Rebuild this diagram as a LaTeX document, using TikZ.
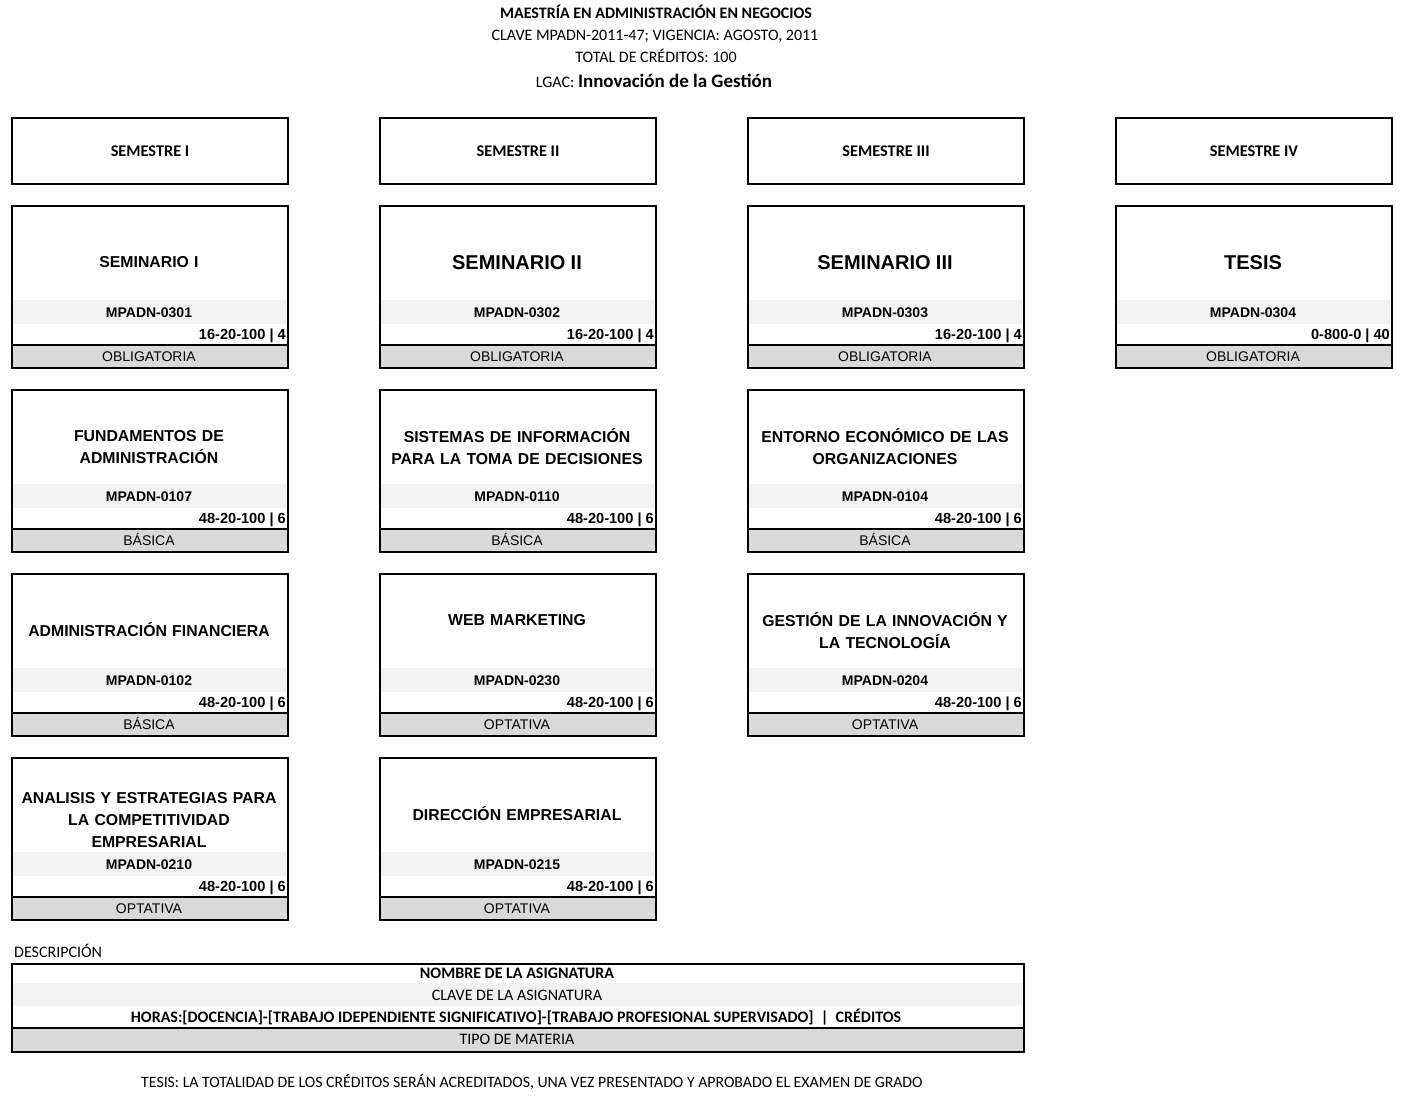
\documentclass[tikz,border=0pt]{standalone}
\usepackage{fontspec}
\newfontfamily\arialf{Liberation Sans}
\newfontfamily\calf{Carlito}
\definecolor{lightband}{HTML}{F2F2F2}
\definecolor{darkband}{HTML}{D9D9D9}
\tikzset{
  boxline/.style={line width=2pt,draw=black},
  coursebox/.style={boxline,rectangle,minimum width=276pt,minimum height=162pt,anchor=north west,inner sep=0pt},
  semhead/.style={boxline,rectangle,minimum width=276pt,minimum height=66pt,anchor=north west,inner sep=0pt},
  semtext/.style={font=\calf\bfseries\fontsize{16.3}{18}\selectfont,inner sep=0pt},
  titletext/.style={font=\arialf\bfseries\fontsize{15.8}{22}\selectfont,align=center,text width=272pt,inner sep=0pt},
  codetext/.style={font=\arialf\bfseries\fontsize{14}{16}\selectfont,inner sep=0pt,anchor=base},
  hourstext/.style={font=\arialf\bfseries\fontsize{14.6}{16}\selectfont,inner sep=0pt,anchor=base east},
  typetext/.style={font=\arialf\fontsize{14}{16}\selectfont,inner sep=0pt,anchor=base},
  headtext/.style={font=\calf\fontsize{16}{18}\selectfont,inner sep=0pt,anchor=base},
  headbold/.style={headtext,font=\calf\bfseries\fontsize{16}{18}\selectfont},
  legtext/.style={font=\calf\fontsize{16}{18}\selectfont,inner sep=0pt,anchor=base},
  legbold/.style={legtext,font=\calf\bfseries\fontsize{16}{18}\selectfont},
}
% name, x, y, title, title dy, code, hours, type
\newcommand\course[8]{%
  \fill[lightband] ({#2},{#3+95}) rectangle ({#2+276},{#3+119});
  \fill[darkband] ({#2},{#3+140}) rectangle ({#2+276},{#3+162});
  \draw[boxline] ({#2},{#3+140}) -- ({#2+276},{#3+140});
  \node[coursebox] (#1) at ({#2},{#3}) {};
  \node[titletext] (#1-t) at ({#2+138},{#3+#5}) {#4};
  \node[codetext] (#1-c) at ({#2+138},{#3+112.5}) {#6};
  \node[hourstext] (#1-h) at ({#2+275},{#3+134.5}) {#7};
  \node[typetext] (#1-y) at ({#2+138},{#3+156}) {#8};
}
\begin{document}
\begin{tikzpicture}[x=1pt,y=-1pt]
\useasboundingbox (0,0) rectangle (1410,1110);
% header
\node[headbold] (h1) at (656,19) {MAESTRÍA EN ADMINISTRACIÓN EN NEGOCIOS};
\node[headtext] (h2) at (655,41) {CLAVE MPADN-2011-47; VIGENCIA: AGOSTO, 2011};
\node[headtext] (h3) at (656,63) {TOTAL DE CRÉDITOS: 100};
\node[headtext] (h4) at (654,88) {LGAC: {\bfseries\fontsize{19}{21}\selectfont Innovación de la Gestión}};
% semester headers
\node[semhead] (s1) at (11,117) {};
\node[semhead] (s2) at (379,117) {};
\node[semhead] (s3) at (747,117) {};
\node[semhead] (s4) at (1115,117) {};
\node[semtext] at (s1.center) {SEMESTRE I};
\node[semtext] at (s2.center) {SEMESTRE II};
\node[semtext] at (s3.center) {SEMESTRE III};
\node[semtext] at (s4.center) {SEMESTRE IV};
% row 1
\course{c11}{11}{205}{SEMINARIO I}{57}{MPADN-0301}{16-20-100 | 4}{OBLIGATORIA}
\course{c21}{379}{205}{{\fontsize{20}{24}\selectfont SEMINARIO II}}{58}{MPADN-0302}{16-20-100 | 4}{OBLIGATORIA}
\course{c31}{747}{205}{{\fontsize{20}{24}\selectfont SEMINARIO III}}{58}{MPADN-0303}{16-20-100 | 4}{OBLIGATORIA}
\course{c41}{1115}{205}{{\fontsize{20}{24}\selectfont TESIS}}{58}{MPADN-0304}{0-800-0 | 40}{OBLIGATORIA}
% row 2
\course{c12}{11}{389}{FUNDAMENTOS DE\\ADMINISTRACIÓN}{58}{MPADN-0107}{48-20-100 | 6}{BÁSICA}
\course{c22}{379}{389}{SISTEMAS DE INFORMACIÓN\\PARA LA TOMA DE DECISIONES}{58}{MPADN-0110}{48-20-100 | 6}{BÁSICA}
\course{c32}{747}{389}{ENTORNO ECONÓMICO DE LAS\\ORGANIZACIONES}{58}{MPADN-0104}{48-20-100 | 6}{BÁSICA}
% row 3
\course{c13}{11}{573}{ADMINISTRACIÓN FINANCIERA}{57}{MPADN-0102}{48-20-100 | 6}{BÁSICA}
\course{c23}{379}{573}{WEB MARKETING}{47}{MPADN-0230}{48-20-100 | 6}{OPTATIVA}
\course{c33}{747}{573}{GESTIÓN DE LA INNOVACIÓN Y\\LA TECNOLOGÍA}{58}{MPADN-0204}{48-20-100 | 6}{OPTATIVA}
% row 4
\course{c14}{11}{757}{ANALISIS Y ESTRATEGIAS PARA\\LA COMPETITIVIDAD\\EMPRESARIAL}{63}{MPADN-0210}{48-20-100 | 6}{OPTATIVA}
\course{c24}{379}{757}{DIRECCIÓN EMPRESARIAL}{57}{MPADN-0215}{48-20-100 | 6}{OPTATIVA}
% legend
\node[legtext,anchor=base west] (desc) at (14,957) {DESCRIPCIÓN};
\fill[lightband] (11,983) rectangle (1023,1006);
\fill[darkband] (11,1028) rectangle (1023,1051);
\draw[boxline] (11,1028) -- (1023,1028);
\node[boxline,rectangle,minimum width=1012pt,minimum height=88pt,anchor=north west,inner sep=0pt] (leg) at (11,963) {};
\node[legbold] (l1) at (517,978) {NOMBRE DE LA ASIGNATURA};
\node[legtext] (l2) at (517,1000) {CLAVE DE LA ASIGNATURA};
\node[legbold] (l3) at (516,1022) {HORAS:[DOCENCIA]-[TRABAJO IDEPENDIENTE SIGNIFICATIVO]-[TRABAJO PROFESIONAL SUPERVISADO] \ | \ CRÉDITOS};
\node[legtext] (l4) at (517,1044) {TIPO DE MATERIA};
\node[legtext,font=\calf\fontsize{15.8}{18}\selectfont] (foot) at (532,1087) {TESIS: LA TOTALIDAD DE LOS CRÉDITOS SERÁN ACREDITADOS, UNA VEZ PRESENTADO Y APROBADO EL EXAMEN DE GRADO};
\end{tikzpicture}
\end{document}
